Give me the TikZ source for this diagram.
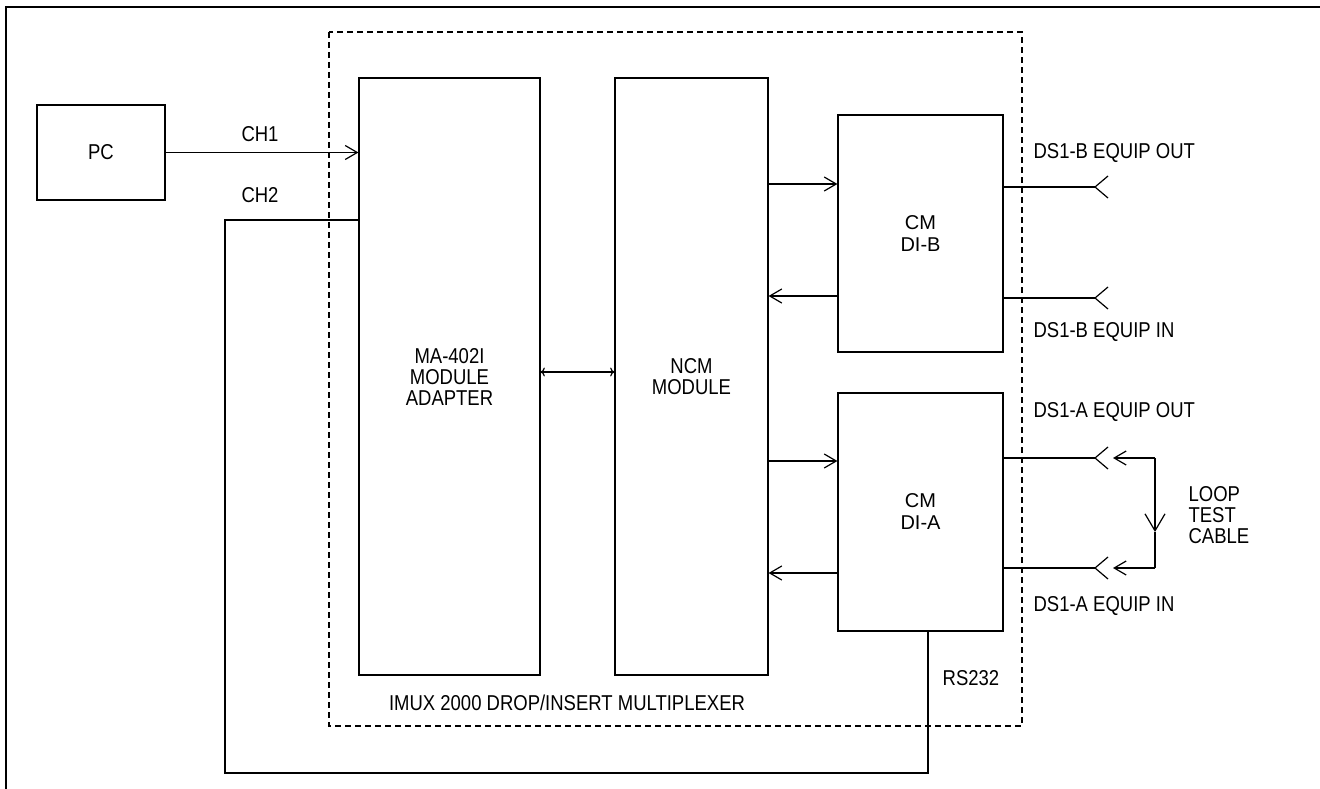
\documentclass[tikz,border=0pt]{standalone}
\usepackage{fontspec}
\setmainfont{Liberation Sans}[FakeStretch=0.86]
\newfontfamily\boxfont{Liberation Sans}
\usepackage{tikz}
\usetikzlibrary{arrows.meta}

\tikzset{
  blk/.style={draw, line width=1.2pt, inner sep=0pt, align=center},
  lbl/.style={inner sep=0pt, align=left},
  arr/.style={-{Straight Barb[length=12pt,width=14pt,line width=1.2pt]}},
  bigarr/.style={-{Straight Barb[length=17pt,width=20pt,line width=1.2pt]}},
}
\newcommand{\jack}[1]{\draw (#1) ++(13,-11) -- (#1) -- ++(13,11);}

\begin{document}
\begin{tikzpicture}[x=1pt, y=-1pt, line width=1.2pt,
    every node/.style={font=\fontsize{21.5}{21}\selectfont}]
  \useasboundingbox (0,0) rectangle (1320,789);
  % frame and multiplexer outline
  \draw (6,789) -- (6,7) -- (1320,7);
  \draw[dashed, dash pattern=on 6pt off 4pt] (329,32) rectangle (1022,726);
  \node (imux) at (567,703) {IMUX 2000 DROP/INSERT MULTIPLEXER};

  % blocks
  \node[blk, minimum width=128pt, minimum height=95pt] (pc) at (101,152.5) {PC};
  \node[blk, minimum width=181pt, minimum height=597pt] (ma) at (449.5,376.5) {MA-402I\\MODULE\\ADAPTER};
  \node[blk, minimum width=153pt, minimum height=597pt] (ncm) at (691.5,376.5) {NCM\\MODULE};
  \node[blk, minimum width=165pt, minimum height=237pt, font=\boxfont\fontsize{20}{22}\selectfont] (dib) at (920.5,233.5) {CM\\DI-B};
  \node[blk, minimum width=165pt, minimum height=238pt, font=\boxfont\fontsize{20}{22}\selectfont] (dia) at (920.5,512) {CM\\DI-A};

  % PC channels
  \draw[arr] (pc.east) -- (ma.west |- pc.east);
  \node (ch1) at (260,134) {CH1};
  \node (ch2) at (260,195) {CH2};
  \coordinate (c2) at (225,220);
  \coordinate (low) at (928,773);
  \draw (ma.west |- c2) -- (c2) |- (low) -- (low |- dia.south);
  \node (rs) at (971,678) {RS232};

  % module links
  \draw[arr, <->] (ma.east |- 0,372) -- (ncm.west |- 0,372);
  \draw[arr] (ncm.east |- 0,184) -- (dib.west |- 0,184);
  \draw[arr] (dib.west |- 0,296) -- (ncm.east |- 0,296);
  \draw[arr] (ncm.east |- 0,461) -- (dia.west |- 0,461);
  \draw[arr] (dia.west |- 0,573) -- (ncm.east |- 0,573);

  % DS1 ports
  \coordinate (jbo) at (1095,187);
  \coordinate (jbi) at (1095,298);
  \coordinate (jao) at (1095,458);
  \coordinate (jai) at (1095,568);
  \draw (dib.east |- jbo) -- (jbo); \jack{jbo}
  \draw (dib.east |- jbi) -- (jbi); \jack{jbi}
  \draw (dia.east |- jao) -- (jao); \jack{jao}
  \draw (dia.east |- jai) -- (jai); \jack{jai}
  \node[lbl, anchor=west] (bo) at (1033,153) {DS1-B EQUIP OUT};
  \node[lbl, anchor=west] (bi) at (1033,332) {DS1-B EQUIP IN};
  \node[lbl, anchor=west] (ao) at (1033,412) {DS1-A EQUIP OUT};
  \node[lbl, anchor=west] (ai) at (1033,606) {DS1-A EQUIP IN};

  % loop test cable
  \coordinate (lt) at (1155,458);
  \coordinate (lm) at (1155,532);
  \coordinate (lb) at (1155,568);
  \draw[arr] (lt) -- (1113,458);
  \draw[arr] (lb) -- (1113,568);
  \draw[bigarr] (lt) -- (lm);
  \draw (lm) -- (lb);
  \node[lbl, anchor=west] (loop) at (1188,515) {LOOP\\TEST\\CABLE};
\end{tikzpicture}
\end{document}
